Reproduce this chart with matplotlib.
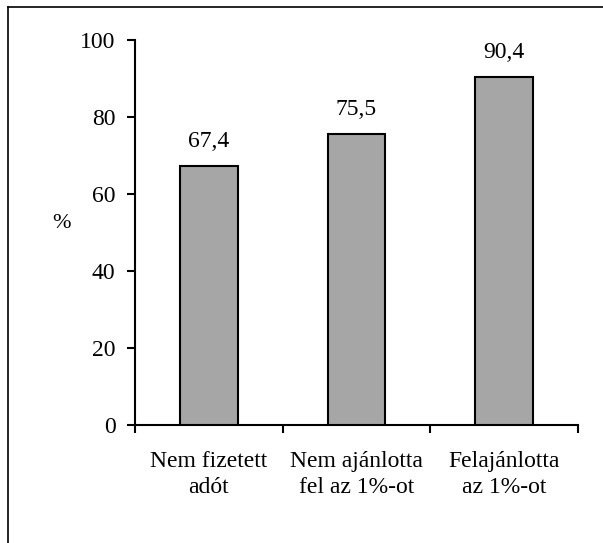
import matplotlib
matplotlib.use('Agg')
import matplotlib.pyplot as plt
from matplotlib.lines import Line2D

categories = ['Nem fizetett\nadót', 'Nem ajánlotta\nfel az 1%-ot', 'Felajánlotta\naz 1%-ot']
values = [67.4, 75.5, 90.4]
value_labels = ['67,4', '75,5', '90,4']
y_ticks = [0, 20, 40, 60, 80, 100]

plt.rcParams['font.family'] = ['Liberation Serif', 'DejaVu Serif']

fig = plt.figure(figsize=(6.03, 5.43), dpi=100)
ax = fig.add_axes([135 / 603, 1 - 425 / 543, 443 / 603, 385 / 543])

x = list(range(len(categories)))
ax.bar(x, values, width=0.39, color='#a6a6a6', edgecolor='black', linewidth=1.5, zorder=3)

for xi, v, lab in zip(x, values, value_labels):
    ax.annotate(lab, (xi, v), xytext=(0, 10), textcoords='offset points',
                ha='center', va='bottom', fontsize=17)

ax.set_xlim(-0.5, len(categories) - 0.5)
ax.set_ylim(0, 100)
ax.set_yticks(y_ticks)
ax.set_yticklabels([str(t) for t in y_ticks], fontsize=17)

# category labels centred, ticks on the category boundaries
ax.set_xticks([i - 0.5 for i in range(len(categories) + 1)])
ax.set_xticklabels([])
ax.set_xticks(x, minor=True)
ax.set_xticklabels(categories, minor=True, fontsize=17, linespacing=1.3)
ax.tick_params(axis='x', which='minor', length=0, pad=19)
ax.tick_params(axis='x', which='major', length=6, width=1.5, direction='out')
ax.tick_params(axis='y', length=6, width=1.5, direction='out', pad=8)

for side in ['top', 'right']:
    ax.spines[side].set_visible(False)
for side in ['left', 'bottom']:
    ax.spines[side].set_linewidth(1.5)

ax.set_ylabel('%', rotation=0, fontsize=16, labelpad=0)
ax.yaxis.set_label_coords(-0.165, 0.5)

# partial outer frame (left and top only)
fig.add_artist(Line2D([8 / 603, 8 / 603], [0, 1 - 7 / 543], color='black', linewidth=1.2,
                      transform=fig.transFigure))
fig.add_artist(Line2D([8 / 603, 1], [1 - 7 / 543, 1 - 7 / 543], color='black', linewidth=1.2,
                      transform=fig.transFigure))

fig.savefig('out.png', dpi=100)
